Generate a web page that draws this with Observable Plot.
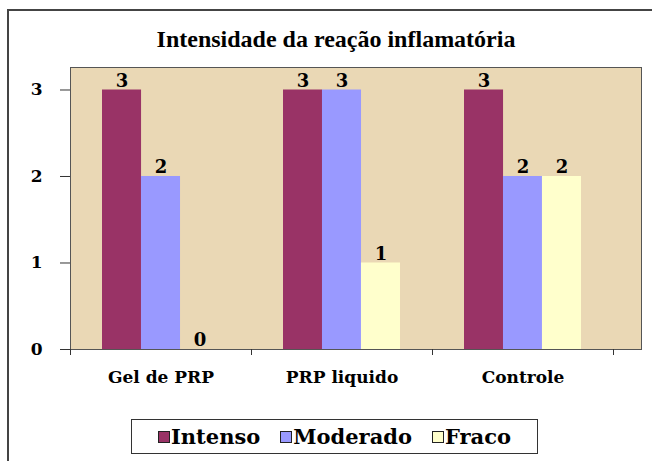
<!DOCTYPE html>
<html>
<head>
<meta charset="utf-8">
<script src="https://cdn.jsdelivr.net/npm/d3@7"></script>
<script src="https://cdn.jsdelivr.net/npm/@observablehq/plot@0.6"></script>
<style>
  html, body { margin: 0; padding: 0; background: #fff; overflow: hidden; }
  #wrap { position: relative; width: 652px; height: 461px; overflow: hidden; }
  #border { position: absolute; left: 7px; top: 9px; width: 700px; height: 500px; border: 2px solid #444; box-sizing: border-box; }
  #title { position: absolute; left: 0; top: 26px; width: 672px; text-align: center; font: bold 24px "Liberation Serif", serif; color: #000; }
  #chart { position: absolute; left: 0; top: 0; }
  #legend { position: absolute; left: 131px; top: 419px; width: 407px; height: 35px; border: 1px solid #333; box-sizing: border-box; display: flex; align-items: center; justify-content: center; gap: 20px; font: bold 21px "DejaVu Serif", serif; }
  .item { display: flex; align-items: center; }
  .sw { width: 10px; height: 10px; border: 1px solid #222; margin-right: 1px; }
</style>
</head>
<body>
<div id="wrap">
  <div id="border"></div>
  <div id="title">Intensidade da reação inflamatória</div>
  <div id="chart"></div>
  <div id="legend"></div>
</div>
<script>
const categories = ["Gel de PRP", "PRP liquido", "Controle"];
const series = ["Intenso", "Moderado", "Fraco"];
const intenso = [3, 3, 3];
const moderado = [2, 3, 2];
const fraco = [0, 1, 2];
const colors = ["#993366", "#9999FF", "#FFFFCC"];
const yTicks = [0, 1, 2, 3];

const values = [intenso, moderado, fraco];
const data = [];
series.forEach((s, i) => categories.forEach((c, j) => data.push({category: c, series: s, si: i, value: values[i][j]})));

// band geometry
const x0 = 70, x1 = 613;
const pIn = 0.354, pOut = pIn / 2;
const step = (x1 - x0) / (categories.length - pIn + 2 * pOut);
const bw = step * (1 - pIn);
const barW = bw / series.length;

const font = "DejaVu Serif, serif";

const marks = [
  Plot.frame({fill: "#EAD8B5", stroke: "#555"}),
];
series.forEach((s, i) => {
  const d = data.filter(r => r.si === i);
  marks.push(Plot.barY(d, {x: "category", y: "value", fill: colors[i], insetLeft: i * barW, insetRight: (series.length - 1 - i) * barW}));
  marks.push(Plot.text(d, {x: "category", y: "value", text: r => String(r.value), dx: (i - (series.length - 1) / 2) * barW, dy: -9, fontSize: 18, fontWeight: "bold", fontFamily: font, fill: "#000"}));
});
marks.push(
  Plot.axisY({ticks: yTicks, tickSize: 10, tickPadding: 18, tickFormat: d => String(d), fontSize: 17, fontWeight: "bold", fontFamily: font, stroke: "#333"}),
  Plot.axisX({tickSize: 0, tickPadding: 21, fontSize: 17, fontWeight: "bold", fontFamily: font}),
  Plot.axisX({tickSize: 6, text: null, dx: -step / 2, stroke: "#333"}),
  Plot.axisX({ticks: [categories[categories.length - 1]], tickSize: 6, text: null, dx: step / 2, stroke: "#333"})
);

const chart = Plot.plot({
  width: 652,
  height: 400,
  marginLeft: 70,
  marginRight: 11,
  marginTop: 67,
  marginBottom: 51,
  style: {background: "transparent", color: "#000"},
  x: {domain: categories, range: [x0, x1], paddingInner: pIn, paddingOuter: pOut, label: null},
  y: {domain: [0, 3.26], label: null},
  marks
});
document.getElementById("chart").appendChild(chart);

const leg = document.getElementById("legend");
series.forEach((s, i) => {
  const it = document.createElement("div");
  it.className = "item";
  const sw = document.createElement("div");
  sw.className = "sw";
  sw.style.background = colors[i];
  const t = document.createElement("span");
  t.textContent = s;
  it.appendChild(sw); it.appendChild(t);
  leg.appendChild(it);
});
</script>
</body>
</html>
